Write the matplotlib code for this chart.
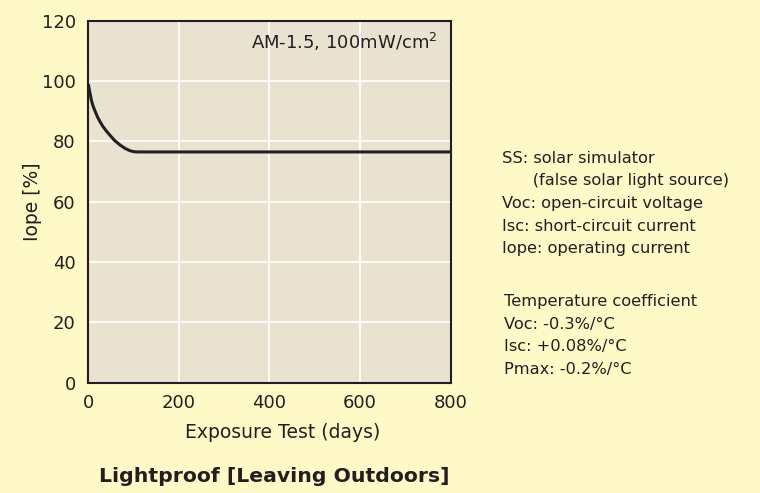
import matplotlib.pyplot as plt

# values
days = [0, 3, 7, 11, 15, 20, 26, 32, 40, 48, 58, 70, 82, 92, 100, 107, 800]
iope = [99, 96.5, 93.5, 91.5, 90, 88.2, 86.5, 85, 83.4, 82, 80.3, 78.8, 77.6, 76.9, 76.6, 76.5, 76.5]
x_ticks = [0, 200, 400, 600, 800]
y_ticks = [0, 20, 40, 60, 80, 100, 120]

notes = [
    "SS: solar simulator",
    "      (false solar light source)",
    "Voc: open-circuit voltage",
    "Isc: short-circuit current",
    "Iope: operating current",
]
temp_notes = [
    "Temperature coefficient",
    "Voc: -0.3%/\u00b0C",
    "Isc: +0.08%/\u00b0C",
    "Pmax: -0.2%/\u00b0C",
]

W, H = 760, 493
bg = "#fef9c6"
face = "#e9e2d1"
ink = "#231f20"

plt.rcParams["font.family"] = ["DejaVu Sans"]

fig = plt.figure(figsize=(W / 100, H / 100), dpi=100, facecolor=bg)
ax = fig.add_axes([88.3 / W, 1 - 382.7 / H, (450.7 - 88.3) / W, (382.7 - 20.7) / H])
ax.set_facecolor(face)

ax.plot(days, iope, color=ink, lw=2.2, solid_capstyle="butt", solid_joinstyle="round")

ax.set_xlim(0, 800)
ax.set_ylim(0, 120)
ax.set_xticks(x_ticks)
ax.set_yticks(y_ticks)
ax.grid(True, color="white", lw=1.2)
ax.set_axisbelow(True)
ax.tick_params(length=0, labelsize=13, labelcolor=ink)
ax.tick_params(axis="x", pad=8)
ax.tick_params(axis="y", pad=9)
for s in ax.spines.values():
    s.set_color(ink)
    s.set_linewidth(1.5)

ax.text(0.965, 0.94, "AM-1.5, 100mW/cm$^2$", transform=ax.transAxes,
        ha="right", va="center", fontsize=13, color=ink)

fig.text(283 / W, 1 - 433 / H, "Exposure Test (days)", ha="center", va="center",
         fontsize=13.5, color=ink)
fig.text(33 / W, 1 - 202 / H, "Iope [%]", ha="center", va="center",
         rotation=90, fontsize=13.5, color=ink)
fig.text(274 / W, 1 - 477 / H, "Lightproof [Leaving Outdoors]", ha="center",
         va="center", fontsize=14.7, fontweight="bold", color=ink)

for i, line in enumerate(notes):
    fig.text(501.5 / W, 1 - (158 + 22.7 * i) / H, line, ha="left", va="center",
             fontsize=11.7, color=ink)
for i, line in enumerate(temp_notes):
    fig.text(504 / W, 1 - (301.7 + 22.5 * i) / H, line, ha="left", va="center",
             fontsize=11.7, color=ink)

fig.savefig("out.png", dpi=100, facecolor=bg)
